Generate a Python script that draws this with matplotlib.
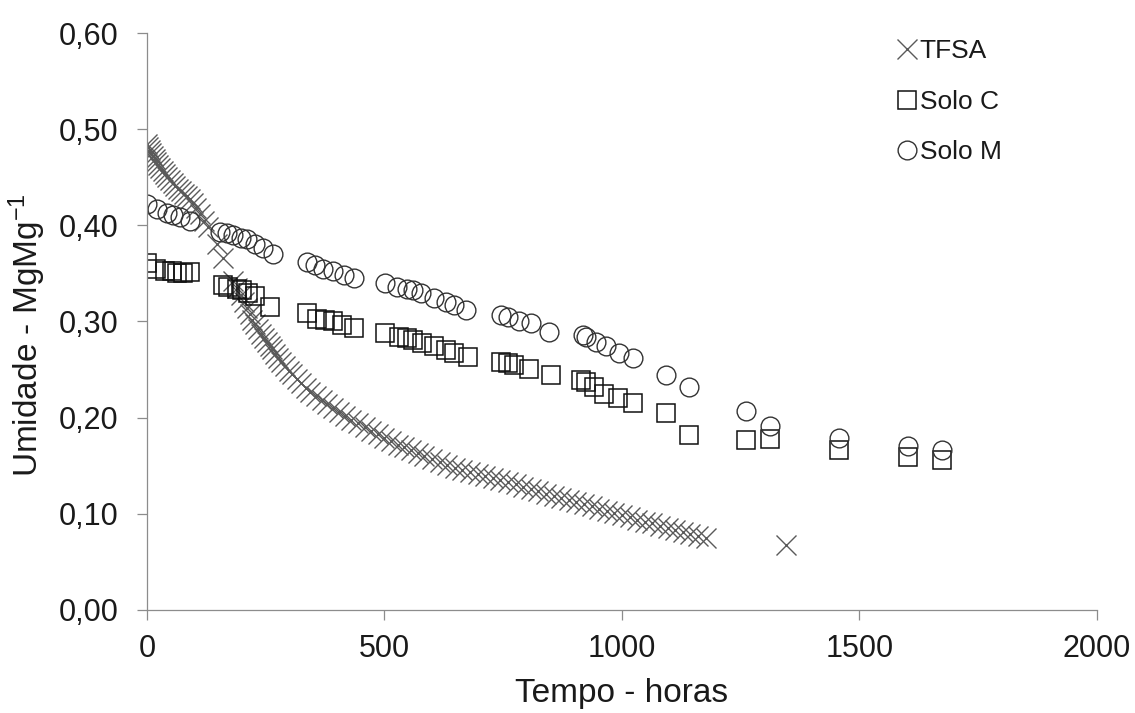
import numpy as np
import matplotlib as mpl
import matplotlib.pyplot as plt

mpl.rcParams['font.family'] = ['Liberation Sans', 'DejaVu Sans']
mpl.rcParams['mathtext.fontset'] = 'custom'
mpl.rcParams['mathtext.rm'] = 'Liberation Sans'
mpl.rcParams['mathtext.it'] = 'Liberation Sans'

# TFSA (horas, umidade)
tfsa_t = [0, 3, 6, 9, 12, 16, 20, 24, 28, 33, 38, 43, 48, 54, 60, 66, 72, 78, 84, 90,
          97, 104, 112, 120, 128, 148, 160, 182, 190, 197, 204, 210, 216, 222, 228, 234,
          240, 246, 252, 258, 264, 270, 276, 283, 290, 298, 306, 315, 324, 334, 344, 356,
          368, 380, 392, 404, 416, 430, 444, 458, 472, 486, 500, 514, 528, 542, 556, 570,
          584, 600, 616, 632, 648, 664, 680, 696, 712, 728, 744, 760, 776, 792, 808, 824,
          840, 856, 872, 888, 904, 920, 936, 952, 968, 984, 1000, 1016, 1032, 1048, 1064,
          1080, 1096, 1112, 1128, 1144, 1160, 1176, 1346]
tfsa_u = [.485, .481, .478, .475, .472, .469, .466, .463, .460, .456, .453, .450, .447, .444,
          .441, .438, .436, .433, .430, .427, .423, .418, .412, .405, .398, .381, .366, .342,
          .335, .328, .320, .314, .308, .302, .297, .292, .287, .283, .279, .275, .271, .266,
          .262, .258, .254, .249, .245, .240, .236, .231, .227, .222, .218, .214, .210, .206,
          .202, .198, .194, .190, .186, .183, .179, .176, .172, .169, .166, .163, .160, .157,
          .154, .151, .148, .146, .143, .141, .139, .137, .135, .133, .131, .128, .126, .124,
          .121, .119, .116, .114, .112, .110, .108, .105, .103, .101, .099, .097, .094, .092,
          .090, .087, .085, .083, .081, .079, .077, .075, .068]

# Solo C
soloc_t = [0, 20, 38, 52, 63, 76, 91, 161, 170, 189, 200, 213, 228, 260, 337, 358, 375,
           392, 411, 435, 502, 530, 548, 561, 580, 604, 629, 646, 675, 745, 759, 772, 804,
           850, 913, 924, 941, 962, 991, 1023, 1093, 1141, 1262, 1312, 1456, 1603, 1673]
soloc_u = [.361, .355, .353, .352, .350, .350, .351, .338, .336, .334, .333, .330, .326,
           .315, .309, .303, .302, .300, .296, .293, .288, .284, .283, .281, .278, .274,
           .270, .267, .263, .258, .257, .255, .251, .244, .239, .237, .232, .225, .220,
           .215, .205, .182, .177, .178, .166, .159, .156]

# Solo M
solom_t = [0, 21, 42, 55, 70, 91, 154, 169, 182, 197, 211, 228, 245, 266, 337, 354, 371,
           392, 414, 435, 502, 527, 548, 561, 576, 604, 629, 646, 671, 745, 759, 783, 808,
           846, 917, 924, 945, 966, 994, 1023, 1093, 1141, 1262, 1312, 1456, 1603, 1673]
solom_u = [.422, .417, .413, .411, .409, .404, .393, .392, .390, .387, .386, .381, .376,
           .370, .362, .359, .355, .352, .348, .345, .340, .336, .334, .333, .330, .324,
           .320, .317, .312, .307, .305, .301, .298, .289, .286, .284, .279, .275, .267,
           .262, .244, .232, .207, .191, .179, .170, .166]

yticks = [0.0, 0.1, 0.2, 0.3, 0.4, 0.5, 0.6]
ytick_labels = ['0,00', '0,10', '0,20', '0,30', '0,40', '0,50', '0,60']

fig = plt.figure(figsize=(11.35, 7.13), dpi=100)
ax = fig.add_axes([0.1295, 0.1445, 0.837, 0.8092])

ax.plot(tfsa_t, tfsa_u, ls='none', marker='x', ms=15, mew=1.0, color='#5a5a5a', label='TFSA')
ax.plot(soloc_t, soloc_u, ls='none', marker='s', ms=13.5, mew=1.1, mfc='none', mec='#111111', label='Solo C')
ax.plot(solom_t, solom_u, ls='none', marker='o', ms=13.5, mew=1.0, mfc='none', mec='#333333', label='Solo M')

ax.set_xlim(0, 2000)
ax.set_ylim(0, 0.6)
ax.set_xticks([0, 500, 1000, 1500, 2000])
ax.set_yticks(yticks)
ax.set_yticklabels(ytick_labels)

for s in ['top', 'right']:
    ax.spines[s].set_visible(False)
for s in ['left', 'bottom']:
    ax.spines[s].set_color('#8c8c8c')
    ax.spines[s].set_linewidth(0.9)
ax.tick_params(axis='both', direction='out', length=7.5, width=0.9, color='#8c8c8c',
               labelsize=22, labelcolor='#1a1a1a')
ax.tick_params(axis='y', pad=13)
ax.tick_params(axis='x', pad=10)

ax.set_xlabel('Tempo - horas', fontsize=24, color='#1a1a1a', labelpad=10)
ax.set_ylabel('Umidade - MgMg$^{-1}$', fontsize=24, color='#1a1a1a', labelpad=8)
ax.yaxis.label.set_y(0.477)

leg = ax.legend(loc='upper left', bbox_to_anchor=(0.769, 1.021), frameon=False, fontsize=19,
                handlelength=0.8, handletextpad=0.1, labelspacing=1.0, borderpad=0.2)
for t in leg.get_texts():
    t.set_color('#1a1a1a')

fig.savefig('out.png', dpi=100)
